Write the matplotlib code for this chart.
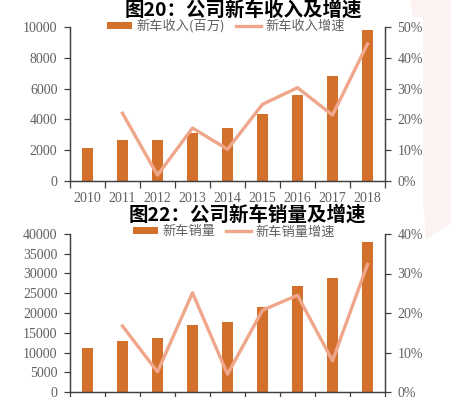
import matplotlib
matplotlib.use("Agg")
import matplotlib.pyplot as plt
import numpy as np
from matplotlib.ticker import FixedLocator, FuncFormatter
from matplotlib.patches import Polygon

years = ["2010", "2011", "2012", "2013", "2014", "2015", "2016", "2017", "2018"]
revenue = [2160, 2635, 2680, 3130, 3455, 4320, 5590, 6800, 9790]
revenue_growth = [None, 22.0, 1.9, 17.2, 10.3, 24.9, 30.3, 21.4, 44.5]
sales = [11080, 12940, 13620, 17000, 17760, 21400, 26720, 28750, 37900]
sales_growth = [None, 16.7, 5.1, 25.1, 4.5, 20.7, 24.5, 7.9, 32.3]

title1 = "图20：公司新车收入及增速"
title2 = "图22：公司新车销量及增速"
bar_label1, line_label1 = "新车收入(百万)", "新车收入增速"
bar_label2, line_label2 = "新车销量", "新车销量增速"

BAR = "#D2702C"
LINE = "#F0A68A"
GRAY = "#606060"
SERIF = ["Liberation Serif", "DejaVu Serif"]
CJK = ["Noto Sans CJK SC", "DejaVu Sans"]

W, H = 452, 397
fig = plt.figure(figsize=(W / 100, H / 100), dpi=100)

def px(x, y):
    return (x / W, 1 - y / H)

# faint watermark on the right
wm = Polygon([px(410, 0), px(452, 0), px(452, 222), px(426, 240), px(423, 200),
              px(423, 17), px(413, 17)], closed=True, transform=fig.transFigure,
             facecolor="#FDF2F2", edgecolor="none", zorder=0)
fig.patches.append(wm)

def draw(rect, bars, growth, ymax, ystep, pmax, bl, ll, title, title_xy, leg_xy, show_x):
    ax = fig.add_axes(rect)
    ax.patch.set_alpha(0)
    x = np.arange(len(years))
    hb = ax.bar(x, bars, width=0.32, color=BAR, label=bl, zorder=2)
    ax.set_xlim(-0.5, len(years) - 0.5)
    ax.set_ylim(0, ymax)
    ax.set_yticks(np.arange(0, ymax + 1, ystep))
    ax.xaxis.set_major_locator(FixedLocator(np.arange(-0.5, len(years), 1.0)))
    ax.xaxis.set_major_formatter(FuncFormatter(lambda v, p: ""))
    if show_x:
        ax.xaxis.set_minor_locator(FixedLocator(x))
        ax.set_xticklabels(years, minor=True)
    ax.tick_params(axis="x", which="major", length=5, direction="out", color="#404040", width=0.9)
    ax.tick_params(axis="x", which="minor", length=0, pad=8)
    ax.tick_params(axis="y", length=4, direction="out", color="#404040", pad=5, width=0.9)
    for lab in ax.get_yticklabels() + ax.get_xticklabels(minor=True):
        lab.set_fontfamily(SERIF)
        lab.set_fontsize(10)
        lab.set_color(GRAY)
    ax.spines["top"].set_visible(False)
    for s in ["left", "right", "bottom"]:
        ax.spines[s].set_color("#404040")
        ax.spines[s].set_linewidth(0.9)
    ax2 = ax.twinx()
    xs = [i for i, g in enumerate(growth) if g is not None]
    gs = [g for g in growth if g is not None]
    hl, = ax2.plot(xs, gs, color=LINE, lw=2.4, label=ll, zorder=3)
    ax2.set_ylim(0, pmax)
    ax2.set_yticks(np.arange(0, pmax + 1, 10))
    ax2.yaxis.set_major_formatter(FuncFormatter(lambda v, p: f"{v:.0f}%"))
    ax2.tick_params(axis="y", length=4, direction="out", color="#404040", pad=5, width=0.9)
    for lab in ax2.get_yticklabels():
        lab.set_fontfamily(SERIF)
        lab.set_fontsize(10)
        lab.set_color(GRAY)
    ax2.spines["top"].set_visible(False)
    for s in ["left", "right", "bottom"]:
        ax2.spines[s].set_color("#404040")
        ax2.spines[s].set_linewidth(0.9)
    leg = ax.legend([hb, hl], [bl, ll], loc="center", bbox_to_anchor=px(*leg_xy),
                    bbox_transform=fig.transFigure, ncol=2, frameon=False,
                    prop={"family": CJK, "size": 9.5}, handlelength=1.9,
                    handleheight=0.45, columnspacing=0.8, handletextpad=0.35,
                    borderpad=0, borderaxespad=0)
    for t in leg.get_texts():
        t.set_color(GRAY)
    leg.set_zorder(5)
    tx, ty = px(*title_xy)
    fig.text(tx, ty, title, ha="center", va="center",
             fontfamily=CJK, fontsize=14, fontweight="bold", color="black")
    return ax

draw([70 / W, 1 - 181 / H, 315 / W, 154 / H], revenue, revenue_growth, 10000, 2000, 50,
     bar_label1, line_label1, title1, (243, 10), (226, 26), True)
draw([70 / W, 1 - 392 / H, 315 / W, 158 / H], sales, sales_growth, 40000, 5000, 40,
     bar_label2, line_label2, title2, (247, 215), (234, 232), False)

fig.savefig("out.png", dpi=100)
